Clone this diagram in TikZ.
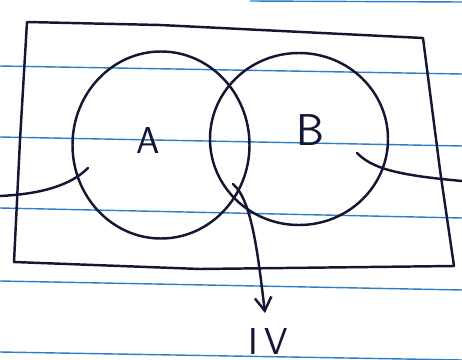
\documentclass[tikz,border=0pt]{standalone}
\usepackage{tikz}
\usetikzlibrary{shapes.geometric,arrows.meta}

\definecolor{ink}{RGB}{22,22,52}
\definecolor{ruleblue}{RGB}{45,125,200}

\tikzset{
    pen/.style={line width=2.1pt, draw=ink, line cap=round, line join=round},
    ruled/.style={line width=1.2pt, draw=ruleblue},
    setcircle/.style={pen, ellipse, inner sep=0pt},
    setlabel/.style={text=ink, font=\sffamily\fontsize{32}{32}\selectfont},
}

\begin{document}
\begin{tikzpicture}[x=0.03cm, y=-0.03cm]
        \useasboundingbox (0,0) rectangle (462,360);

        % ruled paper
        \draw[ruled] (250,1) -- (462,2);
        \draw[ruled] (0,66) -- (462,74);
        \draw[ruled] (0,137) -- (462,146);
        \draw[ruled] (0,208) -- (462,218);
        \draw[ruled] (0,281) -- (462,290);
        \draw[ruled] (0,352) -- (462,360);

        % universe
        \draw[pen] (27,22) -- (160,25) -- (423,38) -- (440,170) -- (454,266)
            -- (200,269) -- (14,262) -- (20,140) -- cycle;

        % sets
        \node[setcircle, minimum width=5.31cm, minimum height=5.61cm] (A) at (161,145) {};
        \node[setcircle, minimum width=5.34cm, minimum height=5.16cm] (B) at (299,139) {};
        \node[setlabel] (labA) at (148,140) {A};
        \node[setlabel, font=\sffamily\fontsize{38}{38}\selectfont] (labB) at (310,130) {B};
        \node[setlabel, inner sep=0pt] (labIV) at (268,341) {I\,V};

        % pointers
        \coordinate (leftend) at (0,196);
        \coordinate (Atip) at (88,168);
        \coordinate (rightend) at (462,181);
        \coordinate (Btip) at (357,153);
        \coordinate (midtip) at (233,184);
        \coordinate (arrtip) at (265,313);

        \draw[pen] (leftend) .. controls (40,194) and (70,186) .. (Atip);
        \draw[pen] (Btip) .. controls (372,168) and (395,175) .. (rightend);
        \draw[pen, -{Straight Barb[length=4mm, width=5mm]}]
            (midtip) .. controls (252,200) and (258,255) .. (arrtip);
\end{tikzpicture}
\end{document}
